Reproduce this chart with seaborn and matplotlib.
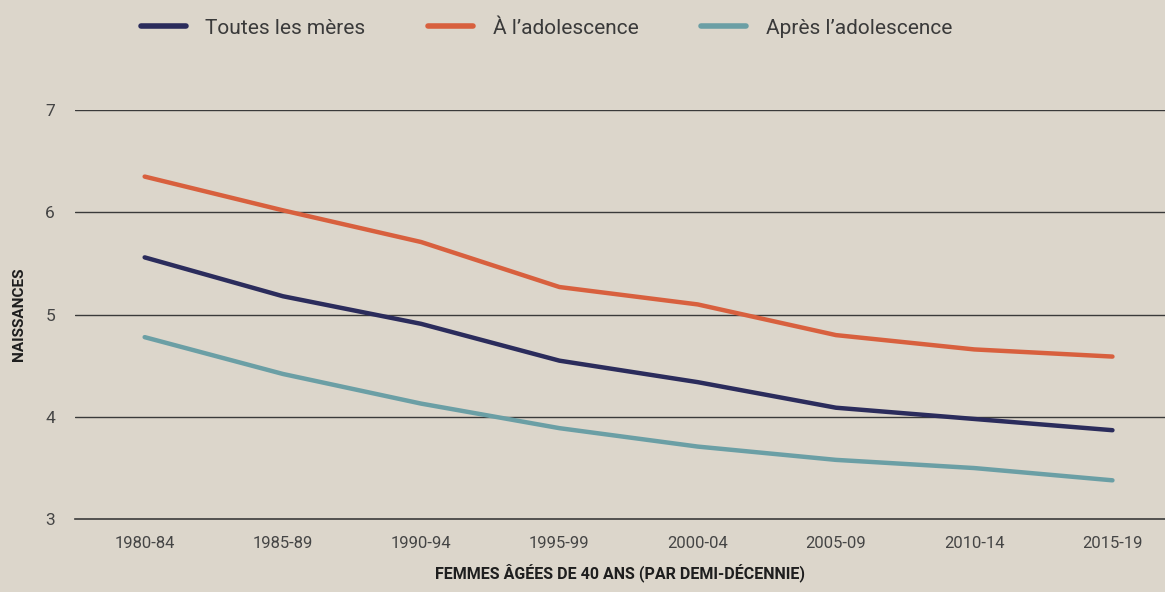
import pandas as pd
import matplotlib.pyplot as plt
import seaborn as sns

# data
periods = ['1980-84', '1985-89', '1990-94', '1995-99', '2000-04', '2005-09', '2010-14', '2015-19']
toutes = [5.56, 5.18, 4.91, 4.55, 4.34, 4.09, 3.98, 3.87]
adolescence = [6.35, 6.02, 5.71, 5.27, 5.10, 4.80, 4.66, 4.59]
apres = [4.78, 4.42, 4.13, 3.89, 3.71, 3.58, 3.50, 3.38]

series_names = ['Toutes les mères', 'À l’adolescence', 'Après l’adolescence']
colors = ['#2b2c5c', '#d8603e', '#6b9fa5']

df = pd.DataFrame({'periode': periods * 3,
                   'naissances': toutes + adolescence + apres,
                   'groupe': [series_names[0]] * 8 + [series_names[1]] * 8 + [series_names[2]] * 8})
df['x'] = df['periode'].map({p: i for i, p in enumerate(periods)})

bg = '#dcd6cb'
sns.set_theme(style='white')
plt.rcParams['font.family'] = ['Roboto', 'DejaVu Sans']

fig = plt.figure(figsize=(11.65, 5.92), dpi=100, facecolor=bg)
ax = fig.add_axes([0.064, 0.123, 0.936, 0.691], facecolor=bg)

sns.lineplot(data=df, x='x', y='naissances', hue='groupe', hue_order=series_names,
             palette=colors, linewidth=3.2, ax=ax, legend=False)

ax.set_ylim(3, 7)
ax.set_xlim(-0.507, 7.38)
ax.set_yticks([3, 4, 5, 6, 7])
ax.set_xticks(range(len(periods)))
ax.set_xticklabels(periods)
for y in [4, 5, 6, 7]:
    ax.axhline(y, color='#3a3a3a', lw=1.0, zorder=0)
for s in ['top', 'right', 'left']:
    ax.spines[s].set_visible(False)
ax.spines['bottom'].set_color('#3a3a3a')
ax.spines['bottom'].set_linewidth(1.2)
ax.tick_params(axis='x', direction='in', length=10, width=1, color='#3a3a3a',
               pad=12, labelsize=12, labelcolor='#454545')
ax.tick_params(axis='y', length=0, pad=14, labelsize=12.5, labelcolor='#454545')

ax.set_xlabel('FEMMES ÂGÉES DE 40 ANS (PAR DEMI-DÉCENNIE)', fontsize=11.5, fontweight='bold',
              color='#1e1e1e', labelpad=9)
ax.set_ylabel('NAISSANCES', fontsize=11, fontweight='bold', color='#1e1e1e', labelpad=14)

handles = [plt.Line2D([0], [0], color=c, lw=4, solid_capstyle='round') for c in colors]
fig.legend(handles, series_names, loc='upper center', bbox_to_anchor=(0.469, 1.0), ncol=3,
           frameon=False, fontsize=15, handlelength=2.15, handletextpad=0.95, columnspacing=3.0,
           labelcolor='#3a3a3a')

fig.savefig('out.png', dpi=100, facecolor=bg)
